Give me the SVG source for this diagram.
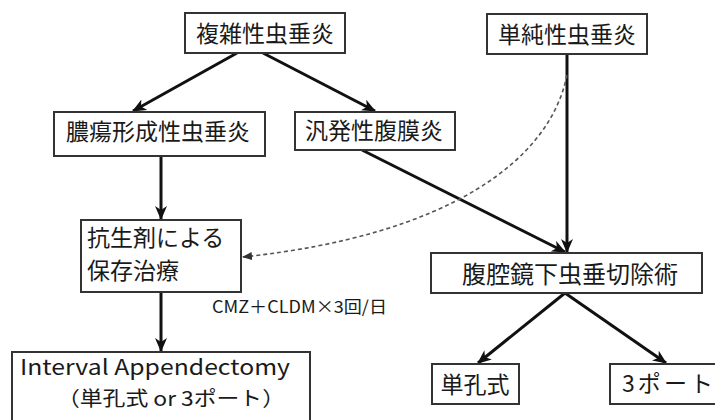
<svg xmlns="http://www.w3.org/2000/svg" width="715" height="420" viewBox="0 0 715 420">
<defs>
<style>
.box{fill:#fff;stroke:#333;stroke-width:2}
.jp{font-family:"Noto Sans CJK JP","Noto Sans",sans-serif;font-size:23px;fill:#1a1a1a}
.lat{font-family:"Noto Sans CJK JP","Noto Sans",sans-serif;fill:#1a1a1a}
.c{text-anchor:middle;dominant-baseline:central}
.ln{stroke:#111;stroke-width:3;fill:none}
.dash{stroke:#555;stroke-width:1.6;fill:none;stroke-dasharray:4 3}
</style>
<marker id="ah" viewBox="0 0 14 12" refX="13" refY="6" markerWidth="14" markerHeight="12" markerUnits="userSpaceOnUse" orient="auto">
<path d="M0,0 L14,6 L0,12 L4,6 Z" fill="#111"/>
</marker>
<marker id="ahs" viewBox="0 0 10 8" refX="9" refY="4" markerWidth="10" markerHeight="8" markerUnits="userSpaceOnUse" orient="auto">
<path d="M0,0 L10,4 L0,8 Z" fill="#333"/>
</marker>
</defs>
<rect width="715" height="420" fill="#fff"/>
<g id="connectors">
<line class="ln" x1="237" y1="53" x2="133" y2="111" marker-end="url(#ah)"/>
<line class="ln" x1="263" y1="53" x2="375" y2="111" marker-end="url(#ah)"/>
<line class="ln" x1="161" y1="156" x2="161" y2="219" marker-end="url(#ah)"/>
<line class="ln" x1="161" y1="292" x2="161" y2="351" marker-end="url(#ah)"/>
<line class="ln" x1="567" y1="54" x2="567" y2="252" marker-end="url(#ah)"/>
<line class="ln" x1="362" y1="150" x2="565" y2="252" marker-end="url(#ah)"/>
<line class="ln" x1="565" y1="293" x2="478" y2="363" marker-end="url(#ah)"/>
<line class="ln" x1="565" y1="293" x2="666" y2="363" marker-end="url(#ah)"/>
<path class="dash" d="M567,75 C550,160 450,235 243,257" marker-end="url(#ahs)"/>
</g>
<g id="n1">
<rect class="box" x="185" y="13" width="160" height="40"/>
<text class="jp c" x="265" y="32">複雑性虫垂炎</text>
</g>
<g id="n2">
<rect class="box" x="487" y="14" width="160" height="40"/>
<text class="jp c" x="567" y="33">単純性虫垂炎</text>
</g>
<g id="n3">
<rect class="box" x="54" y="112" width="211" height="44"/>
<text class="jp c" x="158" y="130">膿瘍形成性虫垂炎</text>
</g>
<g id="n4">
<rect class="box" x="295" y="112" width="160" height="38"/>
<text class="jp c" x="374" y="129">汎発性腹膜炎</text>
</g>
<g id="n5">
<rect class="box" x="81" y="220" width="160" height="72"/>
<text class="jp" x="87" y="246">抗生剤による</text>
<text class="jp" x="87" y="279">保存治療</text>
</g>
<g id="n6">
<rect class="box" x="431" y="253" width="271" height="40"/>
<text class="jp c" x="570" y="272" style="font-size:24px">腹腔鏡下虫垂切除術</text>
</g>
<g id="n7">
<rect class="box" x="12" y="352" width="298" height="80"/>
<text class="lat" x="20" y="375" font-size="21" textLength="270" lengthAdjust="spacingAndGlyphs">Interval Appendectomy</text>
<text class="lat" x="57" y="406" font-size="20" textLength="228" lengthAdjust="spacingAndGlyphs">（単孔式 or 3ポート）</text>
</g>
<g id="n8">
<rect class="box" x="432" y="364" width="87" height="40"/>
<text class="jp c" x="475" y="383">単孔式</text>
</g>
<g id="n9">
<rect class="box" x="610" y="364" width="120" height="40"/>
<text class="jp" x="622" y="392" textLength="91" lengthAdjust="spacing">3ポート</text>
</g>
<g id="label">
<text class="lat" x="212" y="313" font-size="17" textLength="175" lengthAdjust="spacingAndGlyphs">CMZ＋CLDM×3回/日</text>
</g>
</svg>
